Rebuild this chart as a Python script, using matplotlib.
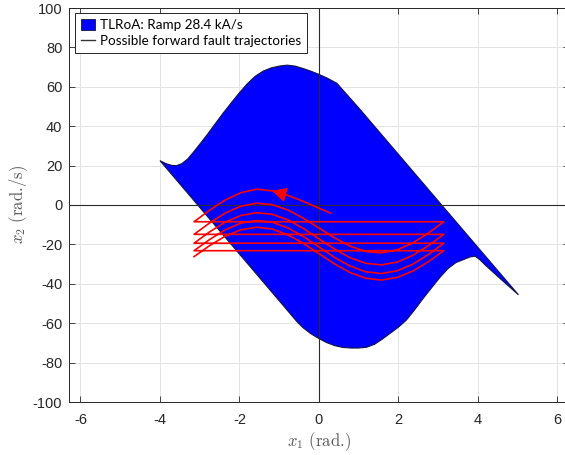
import numpy as np
import matplotlib
matplotlib.use("Agg")
import matplotlib.pyplot as plt
from matplotlib.patches import Patch
from matplotlib.lines import Line2D

# ---- region of attraction boundary (x1 in rad, x2 in rad/s) ----
region_x1 = [-4.00, -3.85, -3.70, -3.58, -3.45, -3.30, -3.15, -3.00, -2.80, -2.60,
             -2.40, -2.20, -2.00, -1.80, -1.60, -1.40, -1.20, -1.00, -0.80, -0.60,
             -0.40, -0.20, 0.00, 0.20, 0.45, 1.00, 1.50, 2.00, 2.55, 3.10,
             3.60, 4.10, 4.60, 5.02, 4.60, 4.20, 4.05, 3.93, 3.80, 3.65,
             3.45, 3.25, 3.05, 2.85, 2.60, 2.40, 2.20, 2.00, 1.80, 1.60,
             1.40, 1.20, 1.00, 0.80, 0.60, 0.40, 0.20, 0.00, -0.20, -0.40,
             -0.55, -1.00, -2.00, -3.00, -3.50]
region_x2 = [22.5, 21.0, 20.1, 20.0, 21.0, 23.4, 27.0, 30.8, 36.0, 41.5,
             46.9, 52.0, 57.0, 61.6, 65.4, 68.0, 69.6, 70.5, 71.0, 70.5,
             69.3, 67.9, 66.3, 64.5, 61.8, 49.3, 37.5, 25.7, 12.7, -0.3,
             -12.1, -23.9, -35.7, -45.6, -38.1, -30.8, -27.8, -26.0, -26.4, -27.6,
             -29.2, -32.2, -36.6, -41.6, -48.0, -53.4, -58.4, -62.0, -65.0, -68.0,
             -70.7, -72.2, -72.6, -72.6, -72.3, -71.4, -69.9, -67.8, -65.4, -62.3,
             -59.3, -48.6, -24.9, -1.2, 10.7]

# ---- fault trajectory (angle wrapped to [-pi, pi]) ----
# first, partial swing
swing0_x1 = [0.29, 0.00, -0.39, -0.79, -1.18, -1.57, -1.96, -2.36, -2.75, -3.1416]
swing0_x2 = [-4.1, -1.6, 1.8, 4.9, 7.2, 8.0, 6.3, 2.5, -2.6, -8.5]

# following swings, sampled on a common angle grid from +pi to -pi
swing_x1 = [3.1416, 2.7489, 2.3562, 1.9635, 1.5708, 1.1781, 0.7854, 0.3927, 0.0,
            -0.3927, -0.7854, -1.1781, -1.5708, -1.9635, -2.3562, -2.7489, -3.1416]
swing1_x2 = [-8.5, -14.3, -19.3, -22.8, -24.3, -23.6, -20.9, -16.7, -11.7,
             -6.7, -2.5, 0.2, 0.9, -0.6, -4.1, -9.1, -14.9]
swing2_x2 = [-14.9, -20.7, -25.6, -29.0, -30.4, -29.6, -26.8, -22.4, -17.2,
             -11.9, -7.5, -4.7, -3.9, -5.3, -8.7, -13.6, -19.4]
swing3_x2 = [-19.4, -25.2, -30.1, -33.4, -34.8, -33.9, -31.0, -26.6, -21.3,
             -16.0, -11.6, -8.7, -7.9, -9.2, -12.6, -17.5, -23.2]
swing4_x2 = [-23.2, -28.8, -33.6, -36.8, -38.1, -37.2, -34.3, -29.9, -24.7,
             -19.5, -15.1, -12.2, -11.3, -12.6, -15.8, -20.6, -26.2]

x_ticks = [-6, -4, -2, 0, 2, 4, 6]
y_ticks = [-100, -80, -60, -40, -20, 0, 20, 40, 60, 80, 100]

region_label = "TLRoA: Ramp 28.4 kA/s"
traj_label = "Possible forward fault trajectories"

plt.rcParams["mathtext.fontset"] = "cm"
plt.rcParams["axes.unicode_minus"] = False
plt.rcParams["font.family"] = ["Liberation Sans", "DejaVu Sans"]

W, H = 565, 455
fig = plt.figure(figsize=(W / 100, H / 100), dpi=100)
ax_left, ax_right, ax_top, ax_bottom = 69.2, 568.7, 8.0, 402.0
ax = fig.add_axes([ax_left / W, (H - ax_bottom) / H,
                   (ax_right - ax_left) / W, (ax_bottom - ax_top) / H])

ax.set_xlim(-2 * np.pi, 2 * np.pi)
ax.set_ylim(-100, 100)
ax.set_xticks(x_ticks)
ax.set_yticks(y_ticks)
ax.grid(True, color="#e3e3e3", lw=0.7, zorder=0)
ax.set_axisbelow(True)

ax.fill(region_x1, region_x2, facecolor="#0000ff", edgecolor="#12124a",
        lw=0.8, zorder=2)

ax.axhline(0, color="#2a2a2a", lw=0.8, zorder=3)
ax.axvline(0, color="#2a2a2a", lw=0.8, zorder=3)

traj_x = list(swing0_x1)
traj_y = list(swing0_x2)
for ys in (swing1_x2, swing2_x2, swing3_x2, swing4_x2):
    traj_x += swing_x1
    traj_y += ys
ax.plot(traj_x, traj_y, color="#ff0000", lw=1.2, zorder=4)

# direction arrow on the first swing
ax.annotate("", xy=(swing0_x1[4], swing0_x2[4]),
            xytext=(swing0_x1[3], swing0_x2[3]),
            arrowprops=dict(arrowstyle="-|>,head_length=0.55,head_width=0.28",
                            color="#ff0000", lw=1.0,
                            mutation_scale=16, shrinkA=0, shrinkB=0),
            zorder=5)

for s in ax.spines.values():
    s.set_color("#262626")
    s.set_linewidth(0.7)
ax.tick_params(direction="in", length=4, width=0.6, top=True, right=True,
               colors="#262626", labelsize=10.5)
ax.tick_params(axis="x", pad=8)
ax.tick_params(axis="y", pad=5)

ax.set_xlabel(r"$x_1$ (rad.)", fontsize=12, color="#555555",
              family="cmr10", labelpad=2)
ax.set_ylabel(r"$x_2$ (rad./s)", fontsize=12, color="#555555",
              family="cmr10", labelpad=2)

handles = [Patch(facecolor="#0000ff", edgecolor="#12124a", lw=0.6),
           Line2D([], [], color="#333333", lw=1.0)]
leg = ax.legend(handles, [region_label, traj_label], loc="upper left",
                bbox_to_anchor=(0.0116, 0.987), borderaxespad=0,
                fancybox=False, framealpha=1, edgecolor="#262626",
                prop={"family": "Lato", "size": 9.7}, handlelength=1.0,
                handleheight=0.8, handletextpad=0.4, borderpad=0.45,
                labelspacing=0.3)
leg.get_frame().set_linewidth(0.7)

fig.savefig("out.png", dpi=100)
